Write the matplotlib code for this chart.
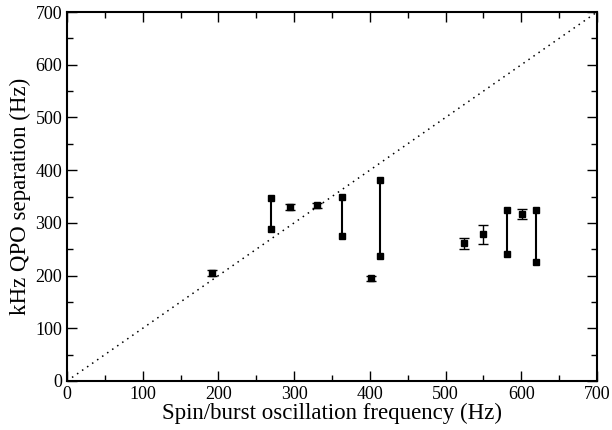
import numpy as np
import matplotlib
matplotlib.use("Agg")
import matplotlib.pyplot as plt
from matplotlib.ticker import MultipleLocator

plt.rcParams['font.family'] = ['Liberation Serif', 'DejaVu Serif']

# sources with a single separation value and error bar
spin_pt = [191, 294, 330, 401, 524, 550, 601]
sep_pt = [205, 330, 333, 195, 261, 278, 317]
err_pt = [5, 5, 5, 5, 10, 18, 10]

# sources where the separation varies over a range
spin_rng = [270, 363, 414, 581, 619]
sep_lo = [289, 275, 238, 240, 225]
sep_hi = [348, 350, 382, 325, 325]

fig = plt.figure(figsize=(6.12, 4.30), dpi=100)
ax = fig.add_axes([0.1095, 0.114, 0.866, 0.858])

# one-to-one line
ax.plot([0, 700], [0, 700], color='black', linestyle=(0, (1, 3)), linewidth=1.1)

ax.errorbar(spin_pt, sep_pt, yerr=err_pt, fmt='s', color='black', markersize=4.5,
            capsize=3.7, elinewidth=1, capthick=1)

for x, lo, hi in zip(spin_rng, sep_lo, sep_hi):
    ax.plot([x, x], [lo, hi], color='black', linewidth=1.5)
    ax.plot([x, x], [lo, hi], 's', color='black', markersize=4.5)

ax.set_xlim(0, 700)
ax.set_ylim(0, 700)
ax.xaxis.set_major_locator(MultipleLocator(100))
ax.xaxis.set_minor_locator(MultipleLocator(50))
ax.yaxis.set_major_locator(MultipleLocator(100))
ax.yaxis.set_minor_locator(MultipleLocator(50))
ax.tick_params(which='both', direction='in', top=True, right=True, labelsize=13, width=1)
ax.tick_params(which='major', length=7)
ax.tick_params(which='minor', length=4)
for s in ax.spines.values():
    s.set_linewidth(1.5)

ax.set_xlabel('Spin/burst oscillation frequency (Hz)', fontsize=16.5, labelpad=0)
ax.set_ylabel('kHz QPO separation (Hz)', fontsize=16.5, labelpad=3)

fig.savefig('out.png', dpi=100)
